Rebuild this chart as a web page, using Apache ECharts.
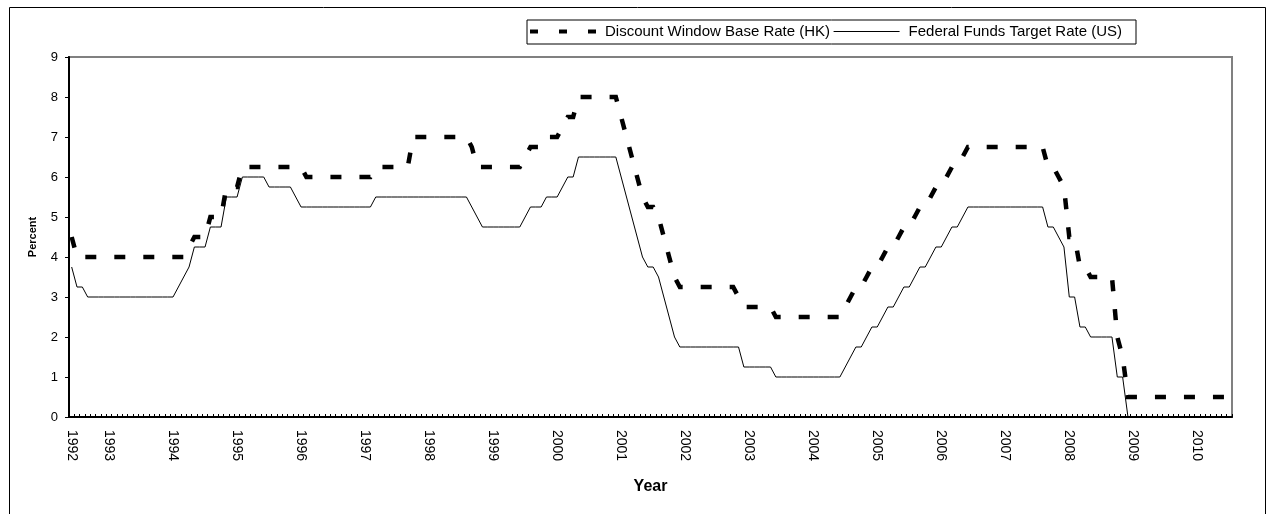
<!DOCTYPE html>
<html>
<head>
    <meta charset="utf-8">
    <title>HK Discount Window Base Rate vs US Fed Funds Target</title>
    <style type="text/css">
        html, body {
            margin: 0;
            padding: 0;
            background: #fff;
        }
        #main {
            width: 1269px;
            height: 514px;
        }
    </style>
    <script src="https://cdn.jsdelivr.net/npm/echarts@6/dist/echarts.min.js"></script>
</head>
<body>
<div id="main"></div>
<script type="text/javascript">
    // monthly series, first point = June 1992
    var startYear = 1992;
    var startMonth = 6;

    var hkRate = [
        4.5, 4, 4, 4, 4, 4, 4,                                  // 1992 Jun-Dec
        4, 4, 4, 4, 4, 4, 4, 4, 4, 4, 4, 4,                     // 1993
        4, 4, 4, 4.25, 4.5, 4.5, 4.5, 5, 5, 5, 5.75, 5.75,      // 1994
        5.75, 6.25, 6.25, 6.25, 6.25, 6.25, 6.25, 6.25, 6.25, 6.25, 6.25, 6.25, // 1995
        6.25, 6, 6, 6, 6, 6, 6, 6, 6, 6, 6, 6,                  // 1996
        6, 6, 6.25, 6.25, 6.25, 6.25, 6.25, 6.25, 6.25, 7, 7, 7, // 1997
        7, 7, 7, 7, 7, 7, 7, 7, 6.75, 6.25, 6.25, 6.25,         // 1998
        6.25, 6.25, 6.25, 6.25, 6.25, 6.25, 6.5, 6.75, 6.75, 6.75, 7, 7, // 1999
        7, 7.25, 7.5, 7.5, 8, 8, 8, 8, 8, 8, 8, 8,              // 2000
        7.5, 7, 6.5, 6, 5.5, 5.25, 5.25, 5, 4.5, 4, 3.5, 3.25,  // 2001
        3.25, 3.25, 3.25, 3.25, 3.25, 3.25, 3.25, 3.25, 3.25, 3.25, 3, 2.75, // 2002
        2.75, 2.75, 2.75, 2.75, 2.75, 2.5, 2.5, 2.5, 2.5, 2.5, 2.5, 2.5, // 2003
        2.5, 2.5, 2.5, 2.5, 2.5, 2.5, 2.75, 3, 3.25, 3.25, 3.5, 3.75, // 2004
        3.75, 4, 4.25, 4.25, 4.5, 4.75, 4.75, 5, 5.25, 5.25, 5.5, 5.75, // 2005
        5.75, 6, 6.25, 6.25, 6.5, 6.75, 6.75, 6.75, 6.75, 6.75, 6.75, 6.75, // 2006
        6.75, 6.75, 6.75, 6.75, 6.75, 6.75, 6.75, 6.75, 6.25, 6.25, 6, 5.75, // 2007
        4.5, 4.5, 3.75, 3.75, 3.5, 3.5, 3.5, 3.5, 3.5, 2, 1.5, 0.5, // 2008
        0.5, 0.5, 0.5, 0.5, 0.5, 0.5, 0.5, 0.5, 0.5, 0.5, 0.5, 0.5, // 2009
        0.5, 0.5, 0.5, 0.5, 0.5, 0.5, 0.5                       // 2010 Jan-Jul
    ];

    var usRate = [
        3.75, 3.25, 3.25, 3, 3, 3, 3,                           // 1992 Jun-Dec
        3, 3, 3, 3, 3, 3, 3, 3, 3, 3, 3, 3,                     // 1993
        3, 3.25, 3.5, 3.75, 4.25, 4.25, 4.25, 4.75, 4.75, 4.75, 5.5, 5.5, // 1994
        5.5, 6, 6, 6, 6, 6, 5.75, 5.75, 5.75, 5.75, 5.75, 5.5,  // 1995
        5.25, 5.25, 5.25, 5.25, 5.25, 5.25, 5.25, 5.25, 5.25, 5.25, 5.25, 5.25, // 1996
        5.25, 5.25, 5.5, 5.5, 5.5, 5.5, 5.5, 5.5, 5.5, 5.5, 5.5, 5.5, // 1997
        5.5, 5.5, 5.5, 5.5, 5.5, 5.5, 5.5, 5.5, 5.25, 5, 4.75, 4.75, // 1998
        4.75, 4.75, 4.75, 4.75, 4.75, 4.75, 5, 5.25, 5.25, 5.25, 5.5, 5.5, // 1999
        5.5, 5.75, 6, 6, 6.5, 6.5, 6.5, 6.5, 6.5, 6.5, 6.5, 6.5, // 2000
        6, 5.5, 5, 4.5, 4, 3.75, 3.75, 3.5, 3, 2.5, 2, 1.75,    // 2001
        1.75, 1.75, 1.75, 1.75, 1.75, 1.75, 1.75, 1.75, 1.75, 1.75, 1.75, 1.25, // 2002
        1.25, 1.25, 1.25, 1.25, 1.25, 1, 1, 1, 1, 1, 1, 1,      // 2003
        1, 1, 1, 1, 1, 1, 1.25, 1.5, 1.75, 1.75, 2, 2.25,       // 2004
        2.25, 2.5, 2.75, 2.75, 3, 3.25, 3.25, 3.5, 3.75, 3.75, 4, 4.25, // 2005
        4.25, 4.5, 4.75, 4.75, 5, 5.25, 5.25, 5.25, 5.25, 5.25, 5.25, 5.25, // 2006
        5.25, 5.25, 5.25, 5.25, 5.25, 5.25, 5.25, 5.25, 4.75, 4.75, 4.5, 4.25, // 2007
        3, 3, 2.25, 2.25, 2, 2, 2, 2, 2, 1, 1, 0,               // 2008
        0, 0, 0, 0, 0, 0, 0, 0, 0, 0, 0, 0,                     // 2009
        0, 0, 0, 0, 0, 0, 0                                     // 2010 Jan-Jul
    ];

    var seriesNames = ['Discount Window Base Rate (HK)', 'Federal Funds Target Rate (US)'];

    // month categories "yyyy-mm"
    var months = [];
    for (var k = 0; k < hkRate.length; k++) {
        var m = startMonth - 1 + k;
        months.push((startYear + Math.floor(m / 12)) + '-' + ('0' + (m % 12 + 1)).slice(-2));
    }

    var FONT = 'Arial, "Liberation Sans", sans-serif';
    var myChart = echarts.init(document.getElementById('main'));

    var option = {
        animation: false,
        color: ['#000', '#000'],
        textStyle: { fontFamily: FONT, color: '#000' },
        graphic: [{
            type: 'rect',
            z: -10,
            silent: true,
            shape: { x: 9.5, y: 7.5, width: 1256, height: 530 },
            style: { fill: 'none', stroke: '#000', lineWidth: 1 }
        }],
        grid: {
            left: 69, right: 37, top: 57, bottom: 97,
            show: true,
            borderColor: '#808080',
            borderWidth: 2
        },
        legend: {
            left: 527, top: 20,
            borderColor: '#000', borderWidth: 1, borderRadius: 0,
            padding: [4, 14, 5, 1],
            itemGap: 3,
            itemWidth: 66,
            itemHeight: 8,
            itemStyle: { color: 'rgba(0,0,0,0)', borderWidth: 0, opacity: 0 },
            textStyle: { fontSize: 15, color: '#000', fontFamily: FONT, padding: [0, 0, 0, 4] },
            data: [
                { name: seriesNames[0], lineStyle: { type: [8, 21], width: 4, cap: 'butt' } },
                { name: seriesNames[1], lineStyle: { width: 1 } }
            ]
        },
        xAxis: {
            type: 'category',
            data: months,
            boundaryGap: true,
            name: 'Year',
            nameLocation: 'middle',
            nameGap: 62,
            nameTextStyle: { fontSize: 16, fontWeight: 'bold', color: '#000', fontFamily: FONT },
            axisLine: { lineStyle: { color: '#000', width: 2 } },
            axisTick: { show: true, inside: true, length: 3, interval: 0, lineStyle: { color: '#000', width: 1 } },
            axisLabel: {
                interval: function (i, v) { return i === 0 || v.slice(5) === '01'; },
                formatter: function (v) { return v.slice(0, 4); },
                rotate: -90,
                margin: 13,
                fontSize: 14,
                color: '#000',
                fontFamily: FONT
            },
            splitLine: { show: false }
        },
        yAxis: {
            type: 'value',
            min: 0, max: 9, interval: 1,
            name: 'Percent',
            nameLocation: 'middle',
            nameGap: 31,
            nameRotate: 90,
            nameTextStyle: { fontSize: 11, fontWeight: 'bold', color: '#000', fontFamily: FONT },
            axisLine: { show: true, lineStyle: { color: '#000', width: 2 } },
            axisTick: { show: true, length: 4, lineStyle: { color: '#000', width: 1 } },
            axisLabel: { margin: 11, fontSize: 13, color: '#000', fontFamily: FONT },
            splitLine: { show: false }
        },
        series: [{
            name: seriesNames[0],
            type: 'line',
            data: hkRate,
            symbol: 'none',
            z: 2,
            lineStyle: { color: '#000', width: 4.5, type: [11, 18], cap: 'butt', join: 'miter' }
        }, {
            name: seriesNames[1],
            type: 'line',
            data: usRate,
            symbol: 'none',
            z: 3,
            lineStyle: { color: '#000', width: 1 }
        }]
    };

    myChart.setOption(option);
</script>
</body>
</html>
